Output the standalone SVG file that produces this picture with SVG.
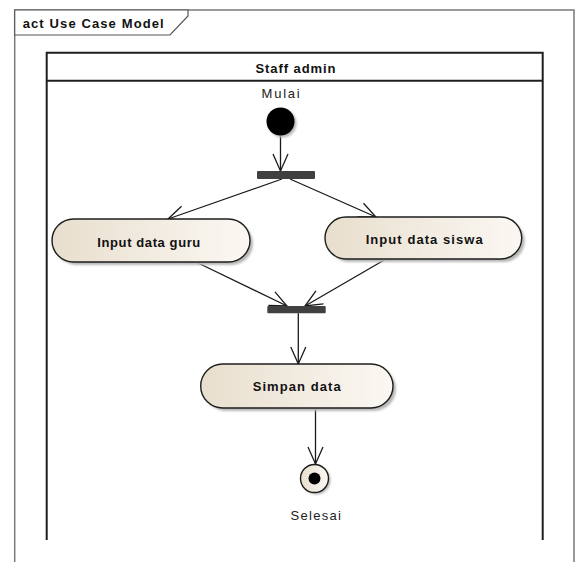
<svg xmlns="http://www.w3.org/2000/svg" width="576" height="562" viewBox="0 0 576 562">
  <defs>
    <linearGradient id="actFill" x1="0" y1="0" x2="1" y2="0">
      <stop offset="0" stop-color="#E8DECD"/>
      <stop offset="1" stop-color="#FBF8F3"/>
    </linearGradient>
    <marker id="openArrow" markerUnits="userSpaceOnUse" viewBox="-18 -9 20 18" refX="0" refY="0" markerWidth="20" markerHeight="18" orient="auto">
      <path d="M-17,-7.5 L0,0 L-17,7.5" fill="none" stroke="#1a1a1a" stroke-width="1.3"/>
    </marker>
    <filter id="soft" x="-10%" y="-10%" width="130%" height="140%">
      <feGaussianBlur stdDeviation="1.2"/>
    </filter>
  </defs>
  <style>
    .frame { fill: none; stroke: #7a7a7a; stroke-width: 1.5; }
    .tab { fill: #ffffff; stroke: #555555; stroke-width: 1.2; }
    .lane { fill: none; stroke: #1e1e1e; stroke-width: 2; }
    .act { fill: url(#actFill); stroke: #1e1e1e; stroke-width: 1.4; }
    .shadow { fill: #b8b8b8; filter: url(#soft); }
    .bar { fill: #404040; }
    .flow { fill: none; stroke: #1a1a1a; stroke-width: 1.3; }
    .bold { font-family: "Liberation Sans", Arial, sans-serif; font-weight: bold; font-size: 13px; fill: #111111; }
    .plain { font-family: "Liberation Sans", Arial, sans-serif; font-size: 13px; fill: #222222; }
  </style>

  <rect x="0" y="0" width="576" height="562" fill="#ffffff"/>

  <!-- diagram frame with its name tab -->
  <g id="frame">
    <path class="frame" d="M14.7,600 V10 H574 V600"/>
    <path class="tab" d="M14.7,10 H188 V16 L170,35 H14.7 Z"/>
    <text class="bold" x="22.7" y="27.5" textLength="141" lengthAdjust="spacing">act Use Case Model</text>
  </g>

  <!-- swimlane -->
  <g id="lane-staff-admin">
    <path class="lane" d="M46.7,540 V52.7 H542.7 V540"/>
    <path class="lane" d="M46.7,80.7 H542.7"/>
    <text class="bold" x="255.5" y="72.5" textLength="80" lengthAdjust="spacing">Staff admin</text>
  </g>

  <!-- control flows -->
  <g id="connectors">
    <path class="flow" d="M280.5,135.5 V171" marker-end="url(#openArrow)"/>
    <path class="flow" d="M282,179 L168,219" marker-end="url(#openArrow)"/>
    <path class="flow" d="M290,179 L376,217" marker-end="url(#openArrow)"/>
    <path class="flow" d="M196,262 L287,306" marker-end="url(#openArrow)"/>
    <path class="flow" d="M386,259 L305,306" marker-end="url(#openArrow)"/>
    <path class="flow" d="M298.3,313.3 V364" marker-end="url(#openArrow)"/>
    <path class="flow" d="M315.5,408 V464" marker-end="url(#openArrow)"/>
  </g>

  <!-- initial node -->
  <g id="start">
    <circle cx="282.5" cy="123.5" r="14" class="shadow"/>
    <circle cx="280.5" cy="121.5" r="14" fill="#000000"/>
    <text class="plain" x="261.6" y="97.5" textLength="38" lengthAdjust="spacing">Mulai</text>
  </g>

  <!-- fork -->
  <g id="fork">
    <rect x="257" y="171" width="58" height="8" rx="1" class="bar"/>
  </g>

  <g id="input-data-guru">
    <rect x="55" y="222" width="198" height="43" rx="21.5" class="shadow"/>
    <rect x="52" y="219" width="198" height="43" rx="21.5" class="act"/>
    <text class="bold" x="97.3" y="246.5" textLength="103" lengthAdjust="spacing">Input data guru</text>
  </g>

  <g id="input-data-siswa">
    <rect x="328" y="220" width="196.7" height="42" rx="21" class="shadow"/>
    <rect x="325" y="217" width="196.7" height="42" rx="21" class="act"/>
    <text class="bold" x="365.7" y="243.5" textLength="117" lengthAdjust="spacing">Input data siswa</text>
  </g>

  <!-- join -->
  <g id="join">
    <rect x="267.3" y="306" width="58.4" height="7.3" rx="1" class="bar"/>
  </g>

  <g id="simpan-data">
    <rect x="203.7" y="367" width="192.3" height="44" rx="22" class="shadow"/>
    <rect x="200.7" y="364" width="192.3" height="44" rx="22" class="act"/>
    <text class="bold" x="252.7" y="391" textLength="88" lengthAdjust="spacing">Simpan data</text>
  </g>

  <!-- final node -->
  <g id="end">
    <circle cx="316.5" cy="480.5" r="14" class="shadow"/>
    <circle cx="314.5" cy="478.5" r="14" fill="url(#actFill)" stroke="#1a1a1a" stroke-width="1.4"/>
    <circle cx="314.5" cy="478.5" r="6" fill="#000000"/>
    <text class="plain" x="290.4" y="520" textLength="50.6" lengthAdjust="spacing">Selesai</text>
  </g>
</svg>
